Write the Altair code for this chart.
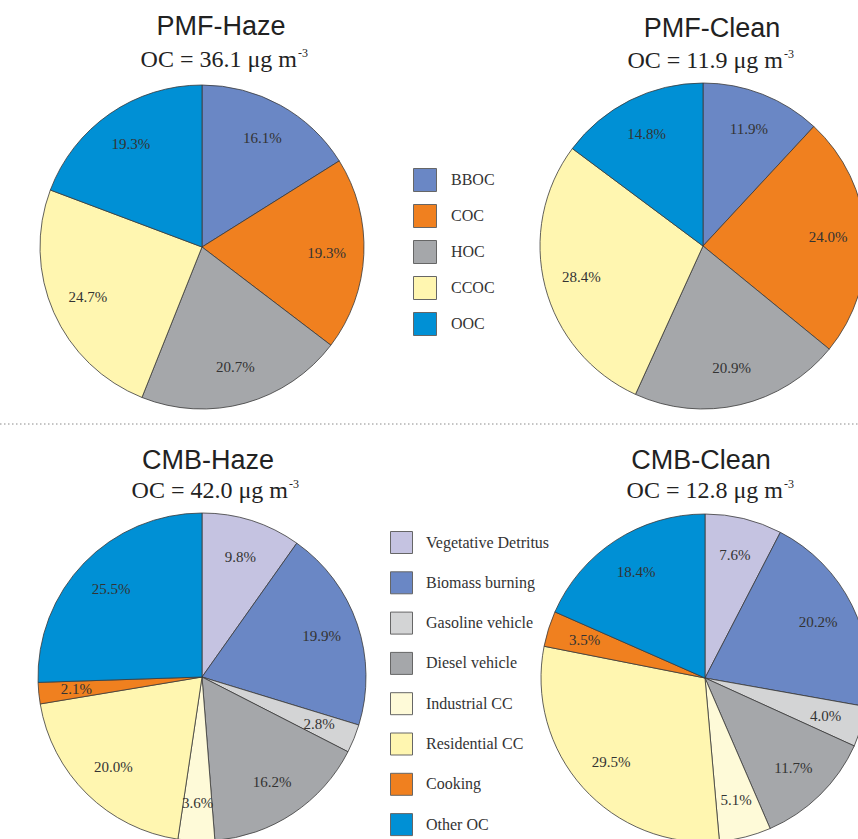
import altair as alt
import pandas as pd

# Source categories and fill colours for the two apportionment methods
pmf_sources = ["BBOC", "COC", "HOC", "CCOC", "OOC"]
pmf_colors = ["#6a87c5", "#f0801f", "#a5a7aa", "#fff6b0", "#0090d5"]

cmb_sources = ["Vegetative Detritus", "Biomass burning", "Gasoline vehicle",
               "Diesel vehicle", "Industrial CC", "Residential CC",
               "Cooking", "Other OC"]
cmb_colors = ["#c5c3e1", "#6a87c5", "#d3d4d5", "#a5a7aa",
              "#fefad8", "#fff6b0", "#f0801f", "#0090d5"]

# Percentage contributions to OC (clockwise from 12 o'clock)
pmf_haze = [16.1, 19.3, 20.7, 24.7, 19.3]
pmf_clean = [11.9, 24.0, 20.9, 28.4, 14.8]
cmb_haze = [9.8, 19.9, 2.8, 16.2, 3.6, 20.0, 2.1, 25.5]
cmb_clean = [7.6, 20.2, 4.0, 11.7, 5.1, 29.5, 3.5, 18.4]

# Panel headings and total OC concentrations (ug m-3)
panel_titles = ["PMF-Haze", "PMF-Clean", "CMB-Haze", "CMB-Clean"]
oc_totals = [36.1, 11.9, 42.0, 12.8]

SERIF = "Liberation Serif"
SANS = "Liberation Sans"


def pie(title, total, sources, colors, values, cx, cy, r,
        title_x, title_y, sub_end, sub_y, legend):
    df = pd.DataFrame({"source": sources, "share": values,
                       "rank": list(range(len(sources)))})
    base = alt.Chart(df).transform_calculate(
        label="format(datum.share, '.1f') + '%'"
    ).encode(
        theta=alt.Theta("share:Q", stack=True),
        order=alt.Order("rank:Q", sort="ascending"),
        x=alt.value(cx),
        y=alt.value(cy),
    )
    arcs = base.mark_arc(radius=r, stroke="#3a3a3a", strokeWidth=0.8).encode(
        color=alt.Color("source:N",
                        scale=alt.Scale(domain=sources, range=colors),
                        legend=legend)
    )
    labels = base.mark_text(radius=0.77 * r, font=SERIF, fontSize=15,
                            color="#333333").encode(text="label:N")

    head_df = pd.DataFrame({"t": [title],
                            "s": [f"OC = {total:.1f} \u03bcg m"],
                            "e": ["-3"]})
    head = alt.Chart(head_df).mark_text(
        font=SANS, fontSize=27, color="#222222", baseline="alphabetic"
    ).encode(text="t:N", x=alt.value(title_x), y=alt.value(title_y))
    sub = alt.Chart(head_df).mark_text(
        font=SERIF, fontSize=24, color="#222222", baseline="alphabetic",
        align="right"
    ).encode(text="s:N", x=alt.value(sub_end), y=alt.value(sub_y))
    sup = alt.Chart(head_df).mark_text(
        font=SERIF, fontSize=12, color="#222222", baseline="alphabetic",
        align="left"
    ).encode(text="e:N", x=alt.value(sub_end + 1), y=alt.value(sub_y - 10))
    return alt.layer(arcs, labels, head, sub, sup)


pmf_legend = alt.Legend(
    orient="none", legendX=413, legendY=168, title=None,
    symbolType="square", symbolSize=529, symbolStrokeColor="#666666",
    symbolStrokeWidth=1, symbolOpacity=1, labelFont=SERIF, labelFontSize=16,
    labelColor="#333333", labelOffset=14, rowPadding=8, padding=0,
)
cmb_legend = alt.Legend(
    orient="none", legendX=390, legendY=531, title=None,
    symbolType="square", symbolSize=484, symbolStrokeColor="#666666",
    symbolStrokeWidth=1, symbolOpacity=1, labelFont=SERIF, labelFontSize=16,
    labelColor="#333333", labelOffset=13, rowPadding=13.3, padding=0,
    labelLimit=300,
)

p1 = pie(panel_titles[0], oc_totals[0], pmf_sources, pmf_colors, pmf_haze,
         202, 247, 162, 221, 35, 297, 67, pmf_legend)
p2 = pie(panel_titles[1], oc_totals[1], pmf_sources, pmf_colors, pmf_clean,
         703, 246, 163, 712, 37, 783, 68, None)
p3 = pie(panel_titles[2], oc_totals[2], cmb_sources, cmb_colors, cmb_haze,
         202, 677, 164, 208, 469, 288, 498, cmb_legend)
p4 = pie(panel_titles[3], oc_totals[3], cmb_sources, cmb_colors, cmb_clean,
         705, 678, 164, 701, 469, 783, 498, None)

divider = alt.Chart(pd.DataFrame({"k": [0]})).mark_rule(
    color="#8a8a8a", strokeWidth=1, strokeDash=[1.5, 2.5]
).encode(x=alt.value(0), x2=alt.value(858), y=alt.value(424))

chart = alt.layer(p1, p2, p3, p4, divider).resolve_scale(
    theta="independent", color="independent"
).properties(
    width=858, height=839, padding=0, autosize="none", background="white"
).configure_view(stroke=None)

chart.save("out.html", embed_options={"renderer": "svg", "actions": False})
